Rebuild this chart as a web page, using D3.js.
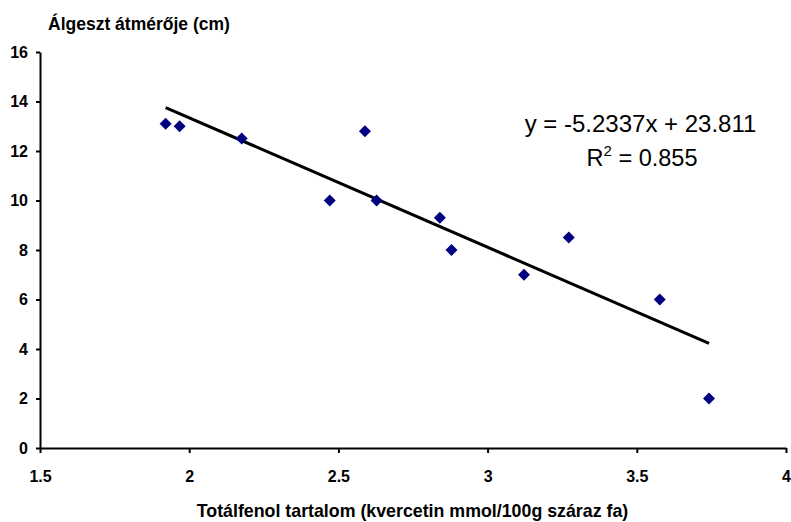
<!DOCTYPE html>
<html>
<head>
<meta charset="utf-8">
<script src="https://d3js.org/d3.v7.min.js"></script>
<style>
  body { margin: 0; background: #fff; }
  text { font-family: "Liberation Sans", Arial, sans-serif; }
</style>
</head>
<body>
<div id="chart"></div>
<script>
// data
var phenol = [1.921, 1.968, 2.176, 2.471, 2.589, 2.628, 2.840, 2.879, 3.122, 3.272, 3.577, 3.742];
var diameter = [13.1, 13.0, 12.5, 10.0, 12.8, 10.0, 9.3, 8.0, 7.0, 8.5, 6.0, 2.0];
var xTicks = [1.5, 2, 2.5, 3, 3.5, 4];
var yTicks = [0, 2, 4, 6, 8, 10, 12, 14, 16];
var slope = -5.2337, intercept = 23.811, r2 = 0.855;

var data = phenol.map(function(p, i) { return {x: p, y: diameter[i]}; });

// set the dimensions and margins of the graph
var W = 791, H = 522;
var margin = {top: 52, right: 5, bottom: 74, left: 40},
    width = W - margin.left - margin.right,
    height = H - margin.top - margin.bottom;

var svg = d3.select("#chart")
  .append("svg")
    .attr("width", W)
    .attr("height", H)
  .append("g")
    .attr("transform", "translate(" + margin.left + "," + margin.top + ")");

// scales
var x = d3.scaleLinear().domain([1.5, 4]).range([0, width]);
var y = d3.scaleLinear().domain([0, 16]).range([height, 0]);

// x axis
var xAxis = svg.append("g")
  .attr("transform", "translate(0," + height + ")")
  .call(d3.axisBottom(x).tickValues(xTicks).tickSize(5).tickSizeOuter(0).tickPadding(18)
    .tickFormat(function(d) { return d; }));

// y axis
var yAxis = svg.append("g")
  .call(d3.axisLeft(y).tickValues(yTicks).tickSize(4).tickSizeOuter(0).tickPadding(8));

[xAxis, yAxis].forEach(function(a) {
  a.select(".domain").attr("stroke", "#000").attr("stroke-width", 2);
  a.selectAll(".tick line").attr("stroke", "#000").attr("stroke-width", 2);
  a.selectAll(".tick text")
    .attr("fill", "#000")
    .style("font-size", "16px")
    .style("font-weight", "bold");
});

// y axis title
svg.append("text")
  .attr("x", 8)
  .attr("y", 30 - margin.top)
  .style("font-size", "17.5px")
  .style("font-weight", "bold")
  .text("Álgeszt átmérője (cm)");

// x axis title
svg.append("text")
  .attr("x", (197 + 628) / 2 - margin.left)
  .attr("y", height + 69)
  .style("text-anchor", "middle")
  .style("font-size", "17.8px")
  .style("font-weight", "bold")
  .text("Totálfenol tartalom (kvercetin mmol/100g száraz fa)");

// trend line
var xr = d3.extent(phenol);
svg.append("path")
  .datum(xr)
  .attr("fill", "none")
  .attr("stroke", "#000")
  .attr("stroke-width", 3)
  .attr("d", d3.line()
    .x(function(d) { return x(d); })
    .y(function(d) { return y(slope * d + intercept); }));

// points
svg.selectAll(".pt")
  .data(data)
  .enter().append("path")
    .attr("class", "pt")
    .attr("d", d3.symbol().type(d3.symbolSquare).size(72))
    .attr("transform", function(d) { return "translate(" + x(d.x) + "," + y(d.y) + ") rotate(45)"; })
    .attr("fill", "#000080");

// equation
svg.append("text")
  .attr("x", 640.5 - margin.left)
  .attr("y", 132 - margin.top)
  .style("text-anchor", "middle")
  .style("font-size", "24px")
  .text("y = " + slope + "x + " + intercept);

var rt = svg.append("text")
  .attr("x", 642 - margin.left)
  .attr("y", 166 - margin.top)
  .style("text-anchor", "middle")
  .style("font-size", "23.5px");
rt.append("tspan").text("R");
rt.append("tspan").attr("dy", -10).style("font-size", "15px").text("2");
rt.append("tspan").attr("dy", 10).text(" = " + r2);
</script>
</body>
</html>
